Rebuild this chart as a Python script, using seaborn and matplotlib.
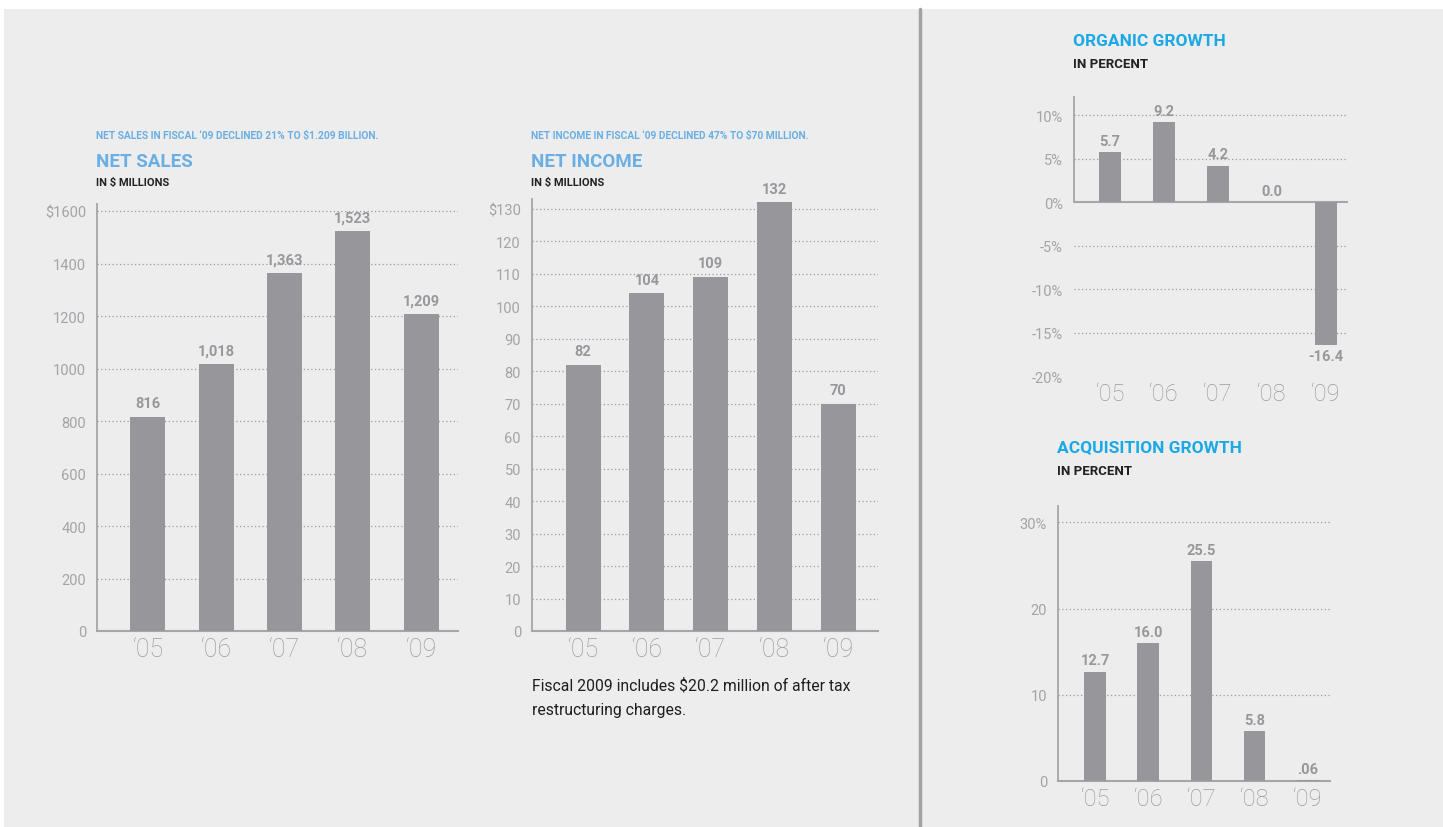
import matplotlib
matplotlib.use("Agg")
import matplotlib.pyplot as plt
import seaborn as sns
import pandas as pd
from matplotlib.patches import Rectangle

# Data
years = ["‘05", "‘06", "‘07", "‘08", "‘09"]
net_sales = [816, 1018, 1363, 1523, 1209]
net_sales_labels = ["816", "1,018", "1,363", "1,523", "1,209"]
net_income = [82, 104, 109, 132, 70]
net_income_labels = ["82", "104", "109", "132", "70"]
organic = [5.7, 9.2, 4.2, 0.0, -16.4]
organic_labels = ["5.7", "9.2", "4.2", "0.0", "-16.4"]
acquisition = [12.7, 16.0, 25.5, 5.8, 0.06]
acquisition_labels = ["12.7", "16.0", "25.5", "5.8", ".06"]

sales_ticks = [0, 200, 400, 600, 800, 1000, 1200, 1400, 1600]
sales_ticklabels = ["0", "200", "400", "600", "800", "1000", "1200", "1400", "$1600"]
income_ticks = list(range(0, 131, 10))
income_ticklabels = [str(t) for t in income_ticks[:-1]] + ["$130"]
organic_ticks = [-20, -15, -10, -5, 0, 5, 10]
organic_ticklabels = ["-20%", "-15%", "-10%", "-5%", "0%", "5%", "10%"]
acq_ticks = [0, 10, 20, 30]
acq_ticklabels = ["0", "10", "20", "30%"]

sns.set_theme(style="white")
plt.rcParams["font.family"] = ["Roboto", "DejaVu Sans"]

BG = "#ededed"
BAR = "#97979b"
TICK = "#a4a4a8"
YEAR = "#9c9ca0"
VAL = "#98989c"
LBLUE = "#6aafe3"
CYAN = "#1aa9e6"

W, H = 1443, 828
fig = plt.figure(figsize=(W / 100, H / 100), dpi=100)
fig.patch.set_facecolor("white")
fig.patches.append(Rectangle((4 / W, 0), 1 - 4 / W, 1 - 10 / H, transform=fig.transFigure,
                             facecolor=BG, edgecolor="none", zorder=-10))
fig.add_artist(plt.Line2D([920 / W, 920 / W], [0, 1 - 10 / H], color="#a2a2a6", lw=2.5, zorder=-5))


def px_axes(x0, x1, ytop, ybot):
    return fig.add_axes([x0 / W, 1 - ybot / H, (x1 - x0) / W, (ybot - ytop) / H])


def panel(ax, vals, labels, ticks, ticklabels, ylim, xlim, width, grid_vals,
          tick_fs, year_fs, val_fs, zero_spine=False, year_pad=4):
    df = pd.DataFrame({"year": years, "value": vals})
    sns.barplot(data=df, x="year", y="value", color=BAR, width=width,
                saturation=1, ax=ax, zorder=3, linewidth=0, edgecolor="none")
    ax.set_facecolor("none")
    ax.set_xlim(*xlim)
    ax.set_ylim(*ylim)
    ax.set_xlabel("")
    ax.set_ylabel("")
    for g in grid_vals:
        ax.axhline(g, color="#9a9a9e", lw=0.9, ls=(0, (1, 2)), zorder=1)
    for s in ["top", "right"]:
        ax.spines[s].set_visible(False)
    ax.spines["left"].set_color("#a6a6aa")
    ax.spines["left"].set_linewidth(1.3)
    if zero_spine:
        ax.spines["bottom"].set_visible(False)
        ax.axhline(0, color="#a6a6aa", lw=1.5, zorder=2)
        ax.spines["left"].set_bounds(0, ylim[1])
    else:
        ax.spines["bottom"].set_color("#a6a6aa")
        ax.spines["bottom"].set_linewidth(1.5)
    ax.set_yticks(ticks)
    ax.set_yticklabels(ticklabels, color=TICK, fontsize=tick_fs)
    ax.set_xticks(range(len(years)))
    ax.set_xticklabels(years, color=YEAR, fontsize=year_fs, fontweight="light")
    ax.tick_params(axis="both", length=0)
    ax.tick_params(axis="y", pad=8)
    ax.tick_params(axis="x", pad=year_pad)
    span = ylim[1] - ylim[0]
    for i, (v, lab) in enumerate(zip(vals, labels)):
        if v < 0:
            ax.text(i, v - span * 0.015, lab, ha="center", va="top", color=VAL,
                    fontsize=val_fs, fontweight="bold")
        else:
            ax.text(i, v + span * 0.015, lab, ha="center", va="bottom", color=VAL,
                    fontsize=val_fs, fontweight="bold")


# Net sales
ax1 = px_axes(97, 458, 205, 632)
panel(ax1, net_sales, net_sales_labels, sales_ticks, sales_ticklabels,
      (0, 1627), (-0.745, 4.54), 0.51, sales_ticks[1:], 10.5, 18, 10.5)
fig.text(96 / W, 1 - 136 / H, "NET SALES IN FISCAL ‘09 DECLINED 21% TO $1.209 BILLION.",
         color=LBLUE, fontsize=7.4, fontweight="bold", va="center")
fig.text(96 / W, 1 - 162 / H, "NET SALES", color=LBLUE, fontsize=13.5, fontweight="bold", va="center")
fig.text(96 / W, 1 - 183 / H, "IN $ MILLIONS", color="#222222", fontsize=8, fontweight="bold", va="center")

# Net income
ax2 = px_axes(532, 878, 200, 632)
panel(ax2, net_income, net_income_labels, income_ticks, income_ticklabels,
      (0, 133), (-0.8, 4.62), 0.55, income_ticks[1:], 10.5, 18, 10.5)
fig.text(531 / W, 1 - 136 / H, "NET INCOME IN FISCAL ‘09 DECLINED 47% TO $70 MILLION.",
         color=LBLUE, fontsize=7.4, fontweight="bold", va="center")
fig.text(531 / W, 1 - 162 / H, "NET INCOME", color=LBLUE, fontsize=13.5, fontweight="bold", va="center")
fig.text(531 / W, 1 - 183 / H, "IN $ MILLIONS", color="#222222", fontsize=8, fontweight="bold", va="center")
fig.text(532 / W, 1 - 686 / H, "Fiscal 2009 includes $20.2 million of after tax",
         color="#1e1e1e", fontsize=11.3, va="center")
fig.text(532 / W, 1 - 711 / H, "restructuring charges.", color="#1e1e1e", fontsize=11.3, va="center")

# Organic growth
ax3 = px_axes(1074, 1348, 98, 380)
panel(ax3, organic, organic_labels, organic_ticks, organic_ticklabels,
      (-20.3, 12.07), (-0.67, 4.41), 0.41, [10, 5, -5, -10, -15], 10.5, 17, 10.5,
      zero_spine=True, year_pad=2)
fig.text(1073 / W, 1 - 42 / H, "ORGANIC GROWTH", color=CYAN, fontsize=12.5, fontweight="bold", va="center")
fig.text(1073 / W, 1 - 65 / H, "IN PERCENT", color="#222222", fontsize=9.5, fontweight="bold", va="center")

# Acquisition growth
ax4 = px_axes(1058, 1330, 507, 782)
panel(ax4, acquisition, acquisition_labels, acq_ticks, acq_ticklabels,
      (0, 31.9), (-0.70, 4.42), 0.41, [10, 20, 30], 10.5, 17, 10.5)
fig.text(1057 / W, 1 - 448 / H, "ACQUISITION GROWTH", color=CYAN, fontsize=12.5, fontweight="bold", va="center")
fig.text(1057 / W, 1 - 472 / H, "IN PERCENT", color="#222222", fontsize=9.5, fontweight="bold", va="center")

fig.savefig("out.png", dpi=100, facecolor=fig.get_facecolor())
